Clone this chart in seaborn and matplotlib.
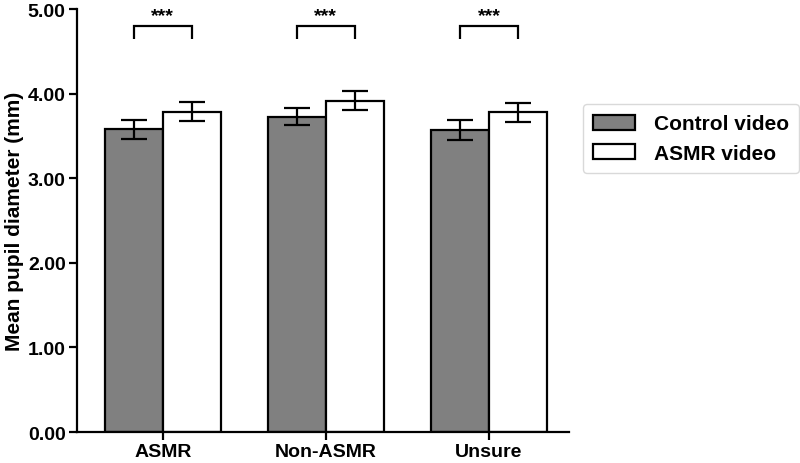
import matplotlib
matplotlib.use("Agg")
import matplotlib.pyplot as plt
import seaborn as sns
import pandas as pd

categories = ["ASMR", "Non-ASMR", "Unsure"]
series_names = ["Control video", "ASMR video"]
control_means = [3.58, 3.73, 3.57]
asmr_means = [3.79, 3.92, 3.78]
control_err = [0.11, 0.10, 0.115]
asmr_err = [0.115, 0.115, 0.115]
y_ticks = [0, 1, 2, 3, 4, 5]
y_tick_labels = ["0.00", "1.00", "2.00", "3.00", "4.00", "5.00"]
sig_labels = ["***", "***", "***"]

sns.set_theme(style="ticks")
plt.rcParams["font.family"] = ["Liberation Sans", "DejaVu Sans"]
plt.rcParams["font.weight"] = "bold"
plt.rcParams["text.color"] = "black"
plt.rcParams["axes.labelcolor"] = "black"

df = pd.DataFrame({
    "group": categories * 2,
    "video": [series_names[0]] * 3 + [series_names[1]] * 3,
    "mean": control_means + asmr_means,
    "err": control_err + asmr_err,
})

fig = plt.figure(figsize=(8, 4.64), dpi=100)
ax = fig.add_axes([0.096, 0.0668, 0.615, 0.9112])

sns.barplot(data=df, x="group", y="mean", hue="video", order=categories,
            hue_order=series_names, palette=["#808080", "#ffffff"],
            width=0.71, gap=0, errorbar=None, edgecolor="black",
            linewidth=1.6, saturation=1, ax=ax)

containers = ax.containers
for cont, errs in zip(containers, [control_err, asmr_err]):
    for bar, e in zip(cont.patches, errs):
        cx = bar.get_x() + bar.get_width() / 2
        ax.errorbar(cx, bar.get_height(), yerr=e, color="black",
                    elinewidth=1.6, capsize=9.4, capthick=1.6, zorder=5)

for i, lab in enumerate(sig_labels):
    b0 = containers[0].patches[i]
    b1 = containers[1].patches[i]
    x0 = b0.get_x() + b0.get_width() / 2
    x1 = b1.get_x() + b1.get_width() / 2
    ax.plot([x0, x0, x1, x1], [4.65, 4.80, 4.80, 4.65], color="black",
            lw=1.6, clip_on=False, solid_capstyle="butt", solid_joinstyle="miter")
    ax.text((x0 + x1) / 2, 4.93, lab, ha="center", va="center",
            fontsize=14, fontweight="bold", color="black")

ax.set_ylim(0, 5)
ax.set_xlim(-0.528, 2.49)
ax.set_yticks(y_ticks)
ax.set_yticklabels(y_tick_labels)
ax.set_xlabel("")
ax.set_ylabel("Mean pupil diameter (mm)", fontsize=15, fontweight="bold",
              labelpad=3, color="black")
ax.tick_params(axis="both", labelsize=14, width=1.6, length=6, color="black",
               labelcolor="black", pad=2)
for lab in ax.get_xticklabels() + ax.get_yticklabels():
    lab.set_fontweight("bold")
for s in ["left", "bottom"]:
    ax.spines[s].set_linewidth(1.6)
    ax.spines[s].set_color("black")
sns.despine(ax=ax)

ax.legend_.remove()
handles = [containers[0].patches[0], containers[1].patches[0]]
leg = fig.legend(handles, series_names, loc="upper left",
                 bbox_to_anchor=(583 / 800, 1 - 105 / 464),
                 frameon=True, prop={"weight": "bold", "size": 15},
                 handlelength=2.0, handleheight=0.72, handletextpad=0.9,
                 borderpad=0.5, labelspacing=0.5, borderaxespad=0,
                 fancybox=True)
leg.get_frame().set_edgecolor("#d0d0d0")
leg.get_frame().set_linewidth(1.0)
for t in leg.get_texts():
    t.set_color("black")

fig.savefig("out.png", dpi=100)
